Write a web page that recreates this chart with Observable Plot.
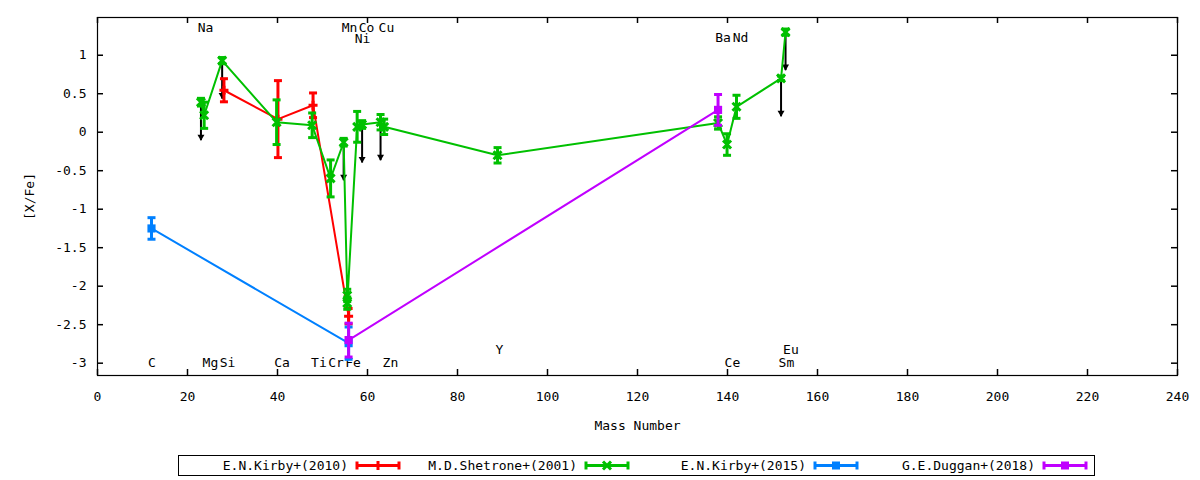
<!DOCTYPE html>
<html><head><meta charset="utf-8">
<script src="https://cdn.jsdelivr.net/npm/d3@7"></script>
<script src="https://cdn.jsdelivr.net/npm/@observablehq/plot@0.6"></script>
<style>body{margin:0;background:#fff;} svg{display:block}</style>
</head><body><div id="chart"></div>
<script>
// ---- data ----
const seriesNames = ["E.N.Kirby+(2010)", "M.D.Shetrone+(2001)", "E.N.Kirby+(2015)", "G.E.Duggan+(2018)"];
const seriesColors = ["#ff0000", "#00c000", "#0080ff", "#c000ff"];

const kirby10Mass = [28.1, 40.1, 47.9, 55.8];
const kirby10Val  = [0.545, 0.17, 0.35, -2.39];
const kirby10Err  = [0.15, 0.5, 0.16, 0.10];

const shetroneMass = [22.99, 23.7, 27.7, 39.8, 47.7, 51.8, 54.7, 55.5, 55.5, 57.7, 58.8, 62.9, 63.7, 88.9, 137.9, 139.9, 142.0, 151.9, 152.9];
const shetroneVal  = [0.39, 0.22, 0.93, 0.13, 0.09, -0.60, -0.13, -2.12, -2.22, 0.07, 0.10, 0.13, 0.07, -0.30, 0.12, -0.16, 0.33, 0.70, 1.30];
const shetroneErr  = [0.05, 0.17, 0.04, 0.29, 0.16, 0.24, 0.05, 0.08, 0.08, 0.20, 0.05, 0.10, 0.10, 0.10, 0.08, 0.14, 0.15, 0.03, 0.04];

const kirby15Mass = [12.0, 55.8];
const kirby15Val  = [-1.25, -2.74];
const kirby15Err  = [0.14, 0.21];

const dugganMass = [55.8, 137.9];
const dugganVal  = [-2.70, 0.29];
const dugganErr  = [0.22, 0.20];

// upper limits (black arrows)
const limitMass = [22.99, 27.7, 54.7, 58.8, 62.9, 151.9, 152.9];
const limitFrom = [0.39, 0.93, -0.13, 0.10, 0.13, 0.70, 1.30];
const limitTo   = [-0.11, 0.43, -0.63, -0.40, -0.37, 0.20, 0.80];

// element labels
const elemNames = ["C", "Na", "Mg", "Si", "Ca", "Ti", "Cr", "Mn", "Fe", "Ni", "Co", "Cu", "Zn", "Y", "Ba", "Ce", "Nd", "Sm", "Eu"];
const elemX     = [12.1, 24.0, 25.1, 28.9, 41.0, 49.2, 53.0, 56.0, 56.8, 58.9, 59.8, 64.2, 65.1, 89.3, 139.0, 141.1, 142.9, 153.1, 154.1];
const elemY     = [-3.0, 1.358, -3.0, -3.0, -3.0, -3.0, -3.0, 1.358, -3.0, 1.215, 1.358, 1.358, -3.0, -2.83, 1.225, -3.0, 1.225, -3.0, -2.83];

const xTicks = [0, 20, 40, 60, 80, 100, 120, 140, 160, 180, 200, 220, 240];
const yTicks = [-3, -2.5, -2, -1.5, -1, -0.5, 0, 0.5, 1];

// ---- layout ----
const W = 1200, H = 448, mT = 17, mB = 73, mL = 97, mR = 23, tickLen = 6;
const frameW = W - mL - mR, frameH = H - mT - mB;

// ---- symbols ----
const capSym = {draw(c){c.moveTo(-4,0);c.lineTo(4,0);}};
const plusSym = {draw(c){c.moveTo(-4.5,0);c.lineTo(4.5,0);c.moveTo(0,-4.5);c.lineTo(0,4.5);}};
const timesSym = {draw(c){c.moveTo(-4,-4);c.lineTo(4,4);c.moveTo(-4,4);c.lineTo(4,-4);}};

function series(mass, val, err, color, kind) {
  const d = mass.map((m, i) => ({x: m, y: val[i], lo: val[i] - err[i], hi: val[i] + err[i]}));
  const marker = kind === "square"
    ? Plot.dot(d, {x: "x", y: "y", symbol: "square", r: 4.6, fill: color, stroke: "none"})
    : Plot.dot(d, {x: "x", y: "y", symbol: kind === "plus" ? plusSym : timesSym, fill: "none", stroke: color, strokeWidth: 3});
  return [
    Plot.line(d, {x: "x", y: "y", stroke: color, strokeWidth: 2}),
    Plot.ruleX(d, {x: "x", y1: "lo", y2: "hi", stroke: color, strokeWidth: 3}),
    Plot.dot(d, {x: "x", y: "lo", symbol: capSym, fill: "none", stroke: color, strokeWidth: 3}),
    Plot.dot(d, {x: "x", y: "hi", symbol: capSym, fill: "none", stroke: color, strokeWidth: 3}),
    marker
  ];
}

const limits = limitMass.map((m, i) => ({x: m, y1: limitFrom[i], y2: limitTo[i]}));
const elems = elemNames.map((n, i) => ({name: n, x: elemX[i], y: elemY[i]}));
const fmt = d => String(d);

const chart = Plot.plot({
  width: W, height: H,
  marginTop: mT, marginBottom: mB, marginLeft: mL, marginRight: mR,
  x: {domain: [0, 240]},
  y: {domain: [-3.16, 1.49]},
  style: {fontFamily: "DejaVu Sans Mono", fontSize: "13px", color: "black", background: "white"},
  marks: [
    Plot.axisX({ticks: xTicks, tickSize: 0, tickPadding: 16, tickFormat: fmt, label: "Mass Number", labelAnchor: "center", labelOffset: 54, labelArrow: "none"}),
    Plot.axisY({ticks: yTicks, tickSize: 0, tickPadding: 11, tickFormat: fmt, label: "[X/Fe]", labelAnchor: "center", labelOffset: 73, labelArrow: "none"}),
    // inward, mirrored ticks
    Plot.ruleX(xTicks, {x: d => d, insetTop: frameH - tickLen, stroke: "black", strokeWidth: 1.5}),
    Plot.ruleX(xTicks, {x: d => d, insetBottom: frameH - tickLen, stroke: "black", strokeWidth: 1.5}),
    Plot.ruleY(yTicks, {y: d => d, insetRight: frameW - tickLen, stroke: "black", strokeWidth: 1.5}),
    Plot.ruleY(yTicks, {y: d => d, insetLeft: frameW - tickLen, stroke: "black", strokeWidth: 1.5}),
    Plot.text(elems, {x: "x", y: "y", text: "name", fill: "black", fontSize: 13}),
    Plot.ruleX(limits, {x: "x", y1: "y1", y2: "y2", stroke: "black", strokeWidth: 2}),
    Plot.dot(limits, {x: "x", y: "y2", symbol: "triangle", rotate: 180, r: 2.6, fill: "black", dy: -4}),
    ...series(kirby10Mass, kirby10Val, kirby10Err, seriesColors[0], "plus"),
    ...series(shetroneMass, shetroneVal, shetroneErr, seriesColors[1], "times"),
    ...series(kirby15Mass, kirby15Val, kirby15Err, seriesColors[2], "square"),
    ...series(dugganMass, dugganVal, dugganErr, seriesColors[3], "square"),
    Plot.frame({stroke: "black", strokeWidth: 1.2})
  ]
});
document.getElementById("chart").appendChild(chart);

// ---- legend below the plot ----
const kinds = ["plus", "times", "square", "square"];
const leg = d3.create("svg").attr("width", 1200).attr("height", 32)
  .style("font-family", "DejaVu Sans Mono").style("font-size", "13px");
leg.append("rect").attr("x", 178.5).attr("y", 7.5).attr("width", 916).attr("height", 20)
  .attr("fill", "none").attr("stroke", "black");
seriesNames.forEach((name, i) => {
  const te = 348 + i * 229, cy = 17.5, s0 = te + 9, s1 = te + 51, c = seriesColors[i], mid = (s0 + s1) / 2;
  leg.append("text").attr("x", te).attr("y", cy).attr("dy", "0.35em").attr("text-anchor", "end").text(name);
  const g = leg.append("g").attr("stroke", c).attr("stroke-width", 3);
  g.append("line").attr("x1", s0).attr("x2", s1).attr("y1", cy).attr("y2", cy);
  g.append("line").attr("x1", s0).attr("x2", s0).attr("y1", cy - 4).attr("y2", cy + 4);
  g.append("line").attr("x1", s1).attr("x2", s1).attr("y1", cy - 4).attr("y2", cy + 4);
  if (kinds[i] === "plus") g.append("line").attr("x1", mid).attr("x2", mid).attr("y1", cy - 4.5).attr("y2", cy + 4.5);
  else if (kinds[i] === "times") g.append("path").attr("d", `M${mid-4},${cy-4}L${mid+4},${cy+4}M${mid-4},${cy+4}L${mid+4},${cy-4}`);
  else g.append("rect").attr("x", mid - 4).attr("y", cy - 4).attr("width", 8).attr("height", 8).attr("fill", c).attr("stroke", "none");
});
document.getElementById("chart").appendChild(leg.node());
</script>
</body></html>
